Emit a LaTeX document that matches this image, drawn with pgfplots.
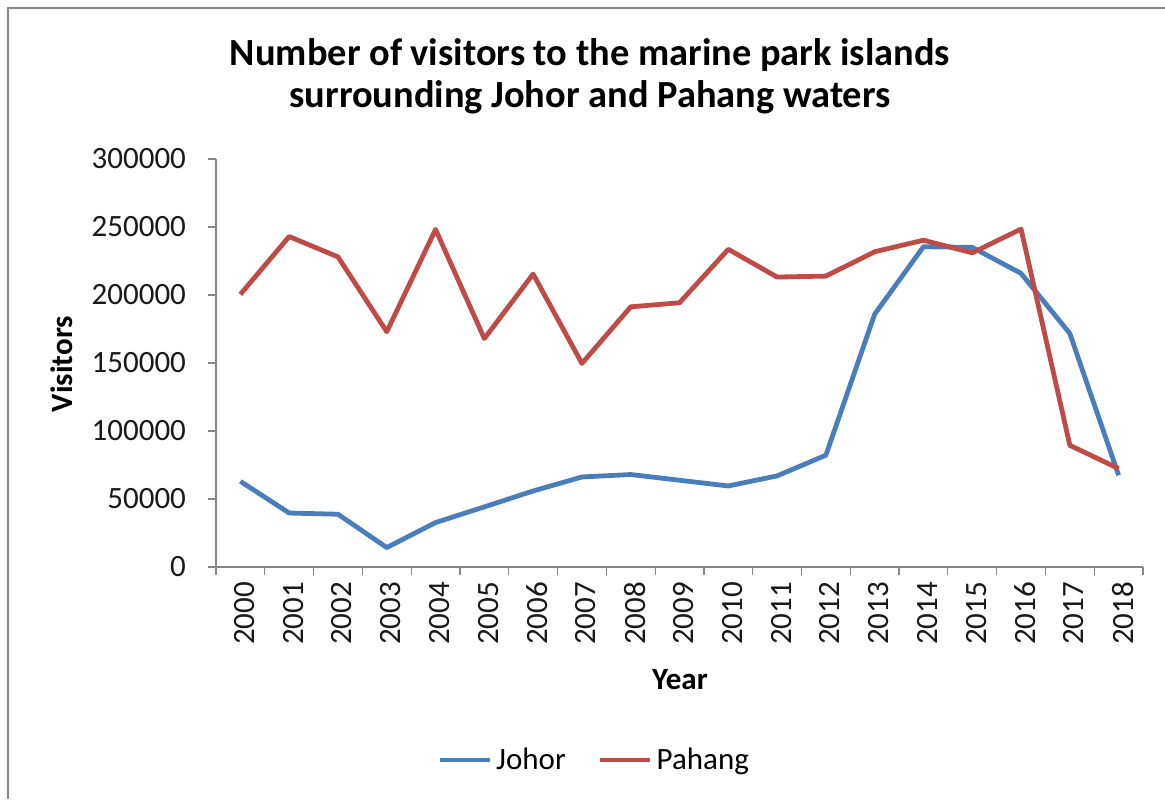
\documentclass[border=0pt]{standalone}
\usepackage{pgfplots}
\pgfplotsset{compat=1.18}
\usepackage{fontspec}
\setmainfont{Carlito}

\definecolor{johor}{HTML}{4A7EBB}
\definecolor{pahang}{HTML}{BE4B48}
\definecolor{axisgray}{HTML}{868686}

% values, one row per year (x = year - 2000)
\pgfplotstableread{
x johor pahang
0  63000  200500
1  39700  243000
2  38800  228000
3  14300  173000
4  32700  248200
5  44200  168000
6  55900  215400
7  66200  149700
8  68000  191300
9  63800  194300
10 59600  233600
11 67000  213200
12 82200  213900
13 185900 231800
14 235500 240300
15 235000 231000
16 215900 248500
17 171700 89500
18 67500  72400
}\visitors

\begin{document}
\begin{tikzpicture}
\useasboundingbox (0,0) rectangle (582.5pt,399.5pt);
\draw[axisgray, line width=1.1pt] (4pt,0) -- (4pt,395.5pt) -- (582.5pt,395.5pt);

\begin{axis}[
    at={(108pt,116pt)}, anchor=south west,
    scale only axis,
    width=463.5pt, height=204pt,
    xmin=-0.5, xmax=18.5,
    ymin=0, ymax=300000,
    axis lines*=left,
    axis line style={axisgray, line width=0.6pt, -},
    tick align=outside,
    major tick length=4pt,
    minor tick length=4pt,
    tick style={axisgray, line width=0.6pt},
    major x tick style={draw=none},
    xtick={0,...,18},
    xticklabels={2000,2001,2002,2003,2004,2005,2006,2007,2008,2009,2010,2011,2012,2013,2014,2015,2016,2017,2018},
    minor xtick={-0.5,0.5,...,18.5},
    ytick={0,50000,...,300000},
    scaled y ticks=false,
    /pgf/number format/.cd, fixed, 1000 sep={}, assume math mode=true,
    /pgfplots/.cd,
    ticklabel style={font=\fontsize{15.5}{18}\selectfont, text=black!90},
    xticklabel style={rotate=90, anchor=east, yshift=-2pt},
    yticklabel style={xshift=-7.5pt},
    legend style={at={(0.409,-0.473)}, anchor=center, draw=none,
        font=\fontsize{15.5}{18}\selectfont, legend columns=2,
        /tikz/every even column/.append style={column sep=14pt}},
    legend image code/.code={\draw[#1] (0pt,0pt) -- (25pt,0pt);},
]
\addplot[johor, line width=2.4pt, line join=round] table[x=x, y=johor] {\visitors};
\addlegendentry{Johor}
\addplot[pahang, line width=2.4pt, line join=round] table[x=x, y=pahang] {\visitors};
\addlegendentry{Pahang}
\end{axis}

\node[font=\fontsize{19.2}{21}\selectfont\bfseries, align=center] at (295pt,361.5pt)
    {Number of visitors to the marine park islands\\surrounding Johor and Pahang waters};
\node[font=\fontsize{15.5}{18}\selectfont\bfseries, rotate=90] at (31pt,217.5pt) {Visitors};
\node[font=\fontsize{15.5}{18}\selectfont\bfseries] at (340pt,59.5pt) {Year};
\end{tikzpicture}
\end{document}
